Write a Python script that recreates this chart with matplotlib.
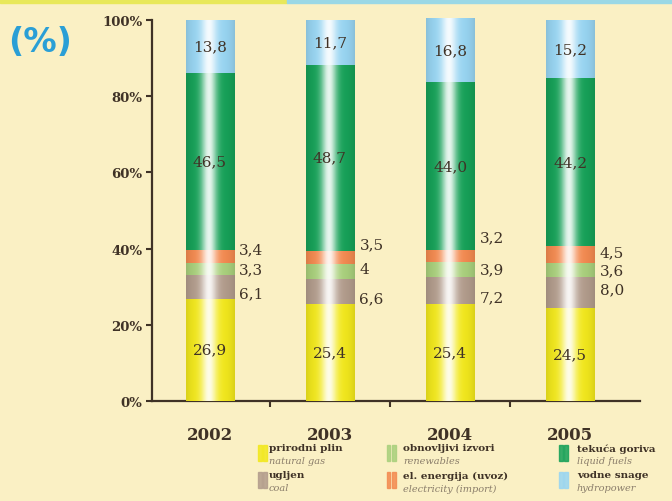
import numpy as np
import matplotlib.pyplot as plt
from matplotlib.patches import Rectangle
from matplotlib.colors import to_rgb

# ------------------------
# data
# ------------------------
years = ["2002", "2003", "2004", "2005"]
natural_gas = [26.9, 25.4, 25.4, 24.5]
coal = [6.1, 6.6, 7.2, 8.0]
renewables = [3.3, 4, 3.9, 3.6]
electricity = [3.4, 3.5, 3.2, 4.5]
liquid_fuels = [46.5, 48.7, 44.0, 44.2]
hydropower = [13.8, 11.7, 16.8, 15.2]

label_gas = ["26,9", "25,4", "25,4", "24,5"]
label_coal = ["6,1", "6,6", "7,2", "8,0"]
label_ren = ["3,3", "4", "3,9", "3,6"]
label_el = ["3,4", "3,5", "3,2", "4,5"]
label_liq = ["46,5", "48,7", "44,0", "44,2"]
label_hyd = ["13,8", "11,7", "16,8", "15,2"]

legend_hr = ["prirodni plin", "ugljen", "obnovljivi izvori", "el. energija (uvoz)",
             "tekuća goriva", "vodne snage"]
legend_en = ["natural gas", "coal", "renewables", "electricity (import)",
             "liquid fuels", "hydropower"]

# ------------------------
# style
# ------------------------
bg = "#faf0c4"
ink = "#3f3226"
c_gas = "#f2e81c"
c_coal = "#b29c8c"
c_ren = "#a9d07c"
c_el = "#f38a50"
c_liq = "#16a158"
c_hyd = "#98d5f2"

# pixel nudges for the small side labels (elec, ren, coal)
side_nudge = [(-7, 0, 6), (-13, -2, 7), (-19, 0, 7), (-3, 0, -3)]


def cyl_image(color, n=64):
    rgb = np.array(to_rgb(color))
    x = np.linspace(0, 1, n)
    w = 0.9 * np.exp(-((x - 0.47) / 0.16) ** 2)
    edge = 0.1 * ((x - 0.5) * 2) ** 4
    img = rgb[None, :] * (1 - w[:, None]) + w[:, None]
    img = img * (1 - edge[:, None])
    return np.clip(img[None, :, :], 0, 1)


fig = plt.figure(figsize=(6.72, 5.02), dpi=100, facecolor=bg)
ax = fig.add_axes([152 / 672, 1 - 402 / 502, 488 / 672, 381 / 502])
ax.set_facecolor(bg)

x = np.arange(len(years))
width = 0.4
series = [(natural_gas, c_gas), (coal, c_coal), (renewables, c_ren),
          (electricity, c_el), (liquid_fuels, c_liq), (hydropower, c_hyd)]

bottom = np.zeros(len(years))
bottoms = []
for vals, col in series:
    bottoms.append(bottom.copy())
    bars = ax.bar(x, vals, width, bottom=bottom, color=col, linewidth=0, zorder=2)
    for b in bars:
        im = ax.imshow(cyl_image(col), extent=[b.get_x(), b.get_x() + b.get_width(),
                                               b.get_y(), b.get_y() + b.get_height()],
                       aspect="auto", interpolation="bilinear", zorder=3)
        im.set_clip_path(b)
    bottom = bottom + np.array(vals)

ax.set_xlim(-0.48, 3.58)
ax.set_ylim(0, 100)

num_font = dict(family="DejaVu Serif", fontsize=11, color=ink)

# labels inside bars
for i in range(len(years)):
    for k, labs in [(0, label_gas), (4, label_liq), (5, label_hyd)]:
        vals = series[k][0]
        yc = bottoms[k][i] + vals[i] / 2
        ax.text(x[i], yc, labs[i], ha="center", va="center", zorder=5, **num_font)
    # side labels
    for j, (k, labs) in enumerate([(3, label_el), (2, label_ren), (1, label_coal)]):
        vals = series[k][0]
        yc = bottoms[k][i] + vals[i] / 2
        ax.annotate(labs[i], (x[i] + width / 2, yc), xytext=(4, -side_nudge[i][j] * 0.72),
                    textcoords="offset points", ha="left", va="center", zorder=5, **num_font)

# axes styling
for s in ["top", "right"]:
    ax.spines[s].set_visible(False)
for s in ["left", "bottom"]:
    ax.spines[s].set_color(ink)
    ax.spines[s].set_linewidth(1.6)

ax.set_yticks([0, 20, 40, 60, 80, 100])
ax.set_yticklabels(["0%", "20%", "40%", "60%", "80%", "100%"],
                   family="DejaVu Serif", fontweight="bold", fontsize=9.5, color=ink)
ax.tick_params(axis="y", length=4, width=1.5, color=ink, pad=3)
ax.set_xticks(x)
ax.set_xticklabels(years, family="DejaVu Serif", fontweight="bold", fontsize=12, color=ink)
ax.tick_params(axis="x", length=0, pad=18)
ax.set_xticks([0.5, 1.5, 2.5], minor=True)
ax.tick_params(axis="x", which="minor", length=4, width=1.5, color=ink)

# (%) label
fig.text(40 / 672, 1 - 42 / 502, "(%)", ha="center", va="center",
         fontsize=24, fontweight="bold", color="#2a9fd6", family="DejaVu Sans")

# top strip
fig.patches.append(Rectangle((0, 1 - 4 / 502), 287 / 672, 4 / 502,
                             transform=fig.transFigure, color="#e8e85a", zorder=0))
fig.patches.append(Rectangle((287 / 672, 1 - 4 / 502), 1 - 287 / 672, 4 / 502,
                             transform=fig.transFigure, color="#9ad8e6", zorder=0))

# legend
leg_cols = [c_gas, c_coal, c_ren, c_el, c_liq, c_hyd]
col_sw = [258, 387, 559]
col_tx = [269, 403, 577]
row_y = [446, 473]
for idx in range(6):
    c, r = idx // 2, idx % 2
    top = row_y[r]
    for dx in [0, 5]:
        fig.patches.append(Rectangle(((col_sw[c] + dx) / 672, 1 - (top + 16) / 502),
                                     3.5 / 672, 16 / 502, transform=fig.transFigure,
                                     color=leg_cols[idx], alpha=0.85))
    fig.text(col_tx[c] / 672, 1 - (top + 3) / 502, legend_hr[idx], ha="left", va="center",
             fontsize=7.5, fontweight="bold", family="DejaVu Serif", color=ink)
    fig.text(col_tx[c] / 672, 1 - (top + 16) / 502, legend_en[idx], ha="left", va="center",
             fontsize=7, style="italic", family="DejaVu Serif", color="#8a7d6a")

fig.savefig("out.png", dpi=100, facecolor=bg)
